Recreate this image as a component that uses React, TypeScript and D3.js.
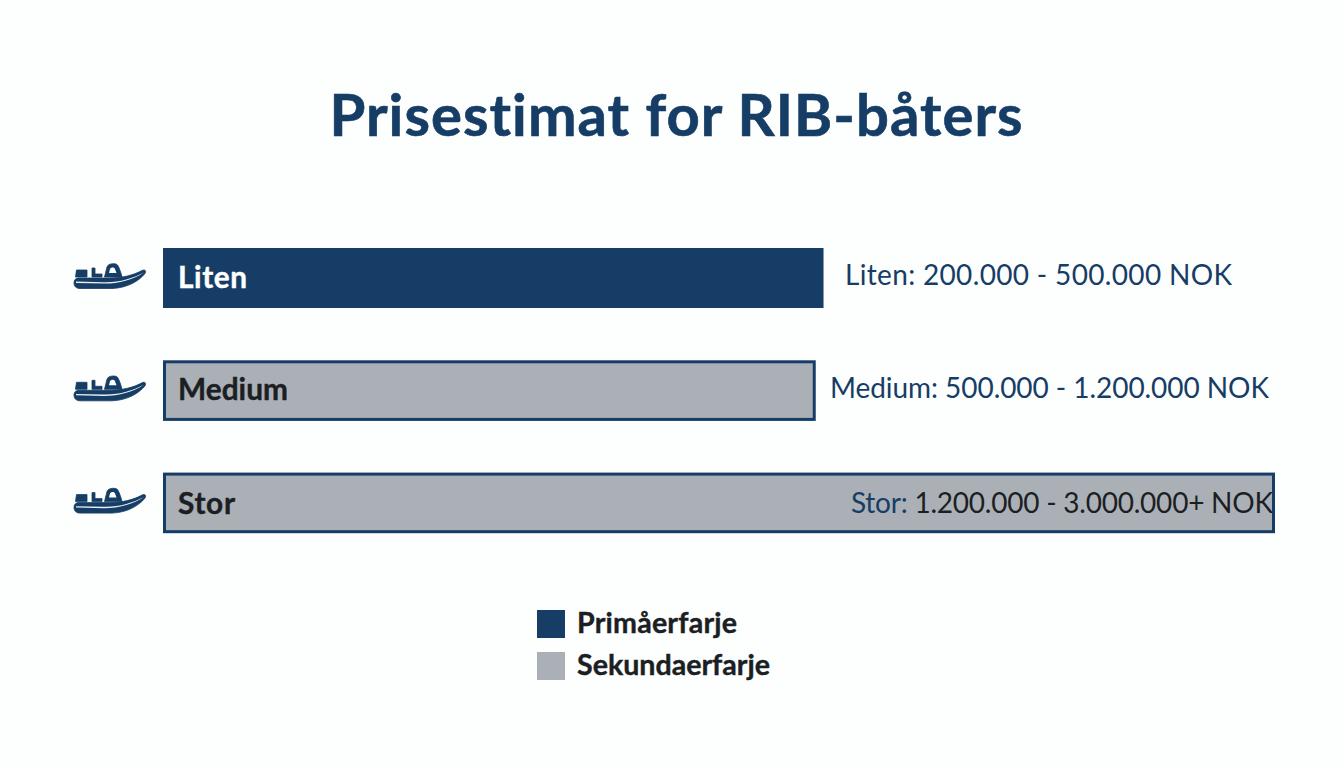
import React from "react";
import * as d3 from "d3";

const titleText = "Prisestimat for RIB-båters";
const categories = ["Liten", "Medium", "Stor"];
// Bar lengths, as a share of the longest bar (the bars are not to price scale)
const barLengths = [59.4, 58.7, 100];
const barKinds = ["primary", "secondary", "secondary"];
const rangePrefixes = ["Liten:", "Medium:", "Stor:"];
const rangeValues = ["200.000 - 500.000 NOK", "500.000 - 1.200.000 NOK", "1.200.000 - 3.000.000+ NOK"];
const legendLabels = ["Primåerfarje", "Sekundaerfarje"];
const legendKinds = ["primary", "secondary"];

const NAVY = "#163d65";
const GREY = "#abb0b6";
const INK = "#1b1f24";
const FONT = "Lato, sans-serif";
const LABEL_X = [845, 830, 851];
const LABEL_W = [387, 439, 422];
const LABEL_DY = [37, 38, 40];
const NAME_DY = [39.5, 39.5, 41];
const NAME_W = [69, 110, 57];

function Boat({ x, y }: { x: number; y: number }) {
  return (
    <g transform={`translate(${x},${y})`} fill={NAVY} stroke={NAVY} strokeWidth={0.8} strokeLinejoin="round">
      <path d="M0 19 C0 15.5 2 14 5 14 L36 14 C48 14 60 11 68 6.5 C71 5 72.5 7 71 9.5 C65 17 53 24 38 24.5 L6 24.5 C2 24.5 0 22 0 19 Z" />
      <path d="M2.5 6 L13 6 L13 13 L1.5 13 Z" />
      <path d="M18 4 L21 4 L21 10 L28 10 L28 13 L18 13 Z" />
      <path d="M30.5 13 L33 3 C34 -1 42 -1 43.5 1 C45.5 4 47 9 48 13 Z" />
      <path d="M35 9 L36 5 C37 3 40.5 3 41 5 L42.5 9 Z" fill="#ffffff" stroke="none" />
      <path d="M2 17.6 L30 18.2 C46 18.5 58 14.5 70 8.5 C58 16 46 19.6 30 19.6 L2 19 Z" fill="#e8eef3" stroke="none" />
    </g>
  );
}

export default function App() {
  const x = d3.scaleLinear().domain([0, 100]).range([163, 1275]);
  const rowStep = 112.3;
  const rowY = (i: number) => 248 + i * rowStep;
  const barH = 60;
  const legendY = d3.scalePoint<string>().domain(legendLabels).range([610, 652]);
  return (
    <svg width={1344} height={768} viewBox="0 0 1344 768"
      style={{ position: "absolute", left: 0, top: 0, background: "#fdfefe", display: "block" }}>
      <rect x={0} y={0} width={1344} height={768} fill="#fdfefe" />
      <text x={676.5} y={136} textAnchor="middle" fontFamily={FONT} fontWeight={700} fontSize={58} letterSpacing={1.05}
        fill={NAVY} stroke={NAVY} strokeWidth={0.6} style={{ fontVariantLigatures: "none" }}>{titleText}</text>

      {categories.map((c, i) => {
        const primary = barKinds[i] === "primary";
        const x1 = x(barLengths[i]);
        const yy = rowY(i);
        const inset = primary ? 0 : 1.5;
        const w = x1 - 163 - 2 * inset;
        const h = barH + (primary ? 0 : 0.6) - 2 * inset;
        const nameColor = primary ? "#ffffff" : INK;
        return (
          <g key={c}>
            <Boat x={74} y={yy + 16} />
            <rect x={163 + inset} y={yy + inset} width={w} height={h} fill={primary ? NAVY : GREY} />
            <text x={178} y={yy + NAME_DY[i]} fontFamily={FONT} fontWeight={700} fontSize={29.8}
              fill={nameColor} stroke={nameColor} strokeWidth={0.4} textLength={NAME_W[i]} lengthAdjust="spacing"
              style={{ fontVariantLigatures: "none" }}>{c}</text>
            <text x={LABEL_X[i]} y={yy + LABEL_DY[i]} fontFamily={FONT} fontSize={28} fill={NAVY}
              textLength={LABEL_W[i]} lengthAdjust="spacing">
              {rangePrefixes[i]}{" "}
              <tspan fill={i === 2 ? INK : NAVY}>{rangeValues[i]}</tspan>
            </text>
            {!primary && (
              <rect x={163 + inset} y={yy + inset} width={w} height={h} fill="none" stroke={NAVY} strokeWidth={3} />
            )}
          </g>
        );
      })}

      {legendLabels.map((l, i) => (
        <g key={l}>
          <rect x={537} y={legendY(l)} width={28} height={28} fill={legendKinds[i] === "primary" ? NAVY : GREY} />
          <text x={577} y={(legendY(l) as number) + 23} fontFamily={FONT} fontWeight={700} fontSize={28.6}
            fill={INK} stroke={INK} strokeWidth={0.4} textLength={i === 0 ? 160 : 193} lengthAdjust="spacing"
            style={{ fontVariantLigatures: "none" }}>{l}</text>
        </g>
      ))}
    </svg>
  );
}
